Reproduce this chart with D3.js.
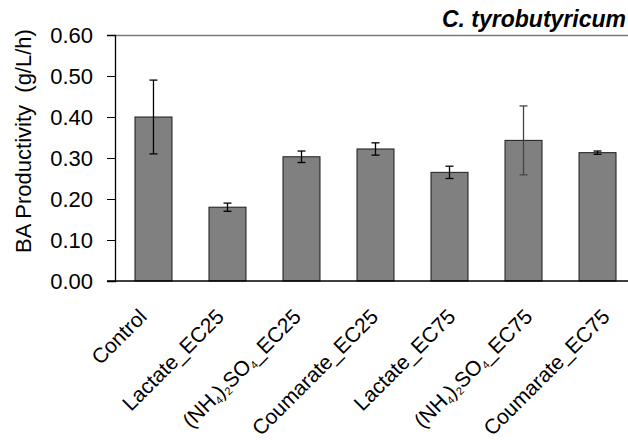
<!DOCTYPE html>
<html lang="en">
<head>
    <meta charset="UTF-8">
    <title>BA Productivity</title>
    <script src="https://d3js.org/d3.v7.min.js"></script>
    <style>
        body {
            background-color: #ffffff;
            margin: 0;
            padding: 0;
            font-family: "Liberation Sans", Arial, sans-serif;
        }
    </style>
</head>
<body>
    <svg id="chart"></svg>

    <script>
        const categories = ["Control", "Lactate_EC25", "(NH4)2SO4_EC25", "Coumarate_EC25",
            "Lactate_EC75", "(NH4)2SO4_EC75", "Coumarate_EC75"];
        const productivity = [0.40, 0.18, 0.303, 0.322, 0.265, 0.343, 0.313];
        const errors = [0.09, 0.01, 0.014, 0.015, 0.015, 0.084, 0.004];
        const yTicks = [0, 0.1, 0.2, 0.3, 0.4, 0.5, 0.6];

        const width = 628;
        const height = 440;
        const margin = { top: 35, right: -8, bottom: 159, left: 115 };

        const chartWidth = width - margin.left - margin.right;
        const chartHeight = height - margin.top - margin.bottom;

        const svg = d3.select("#chart")
            .attr("width", width)
            .attr("height", height);

        const chart = svg.append("g")
            .attr("transform", `translate(${margin.left},${margin.top})`);

        const xScale = d3.scaleBand()
            .domain(categories)
            .range([0, chartWidth])
            .paddingInner(0.5)
            .paddingOuter(0.27);

        // the rotated labels sit on a slightly wider spacing than the bars
        const labelScale = d3.scalePoint()
            .domain(categories)
            .range([33, 496]);

        const yScale = d3.scaleLinear()
            .domain([0, 0.6])
            .range([chartHeight, 0]);

        // top border of plot area
        chart.append("line")
            .attr("x1", 0).attr("x2", chartWidth)
            .attr("y1", 0.5).attr("y2", 0.5)
            .attr("stroke", "#777")
            .attr("stroke-width", 1.5);

        const data = categories.map((c, i) => ({ cat: c, value: productivity[i], err: errors[i] }));

        chart.selectAll(".bar")
            .data(data)
            .enter()
            .append("rect")
            .attr("class", "bar")
            .attr("x", d => xScale(d.cat))
            .attr("y", d => yScale(d.value))
            .attr("width", xScale.bandwidth())
            .attr("height", d => chartHeight - yScale(d.value))
            .attr("fill", "#808080")
            .attr("stroke", "#1a1a1a")
            .attr("stroke-width", 1);

        // error bars
        const errG = chart.selectAll(".err")
            .data(data)
            .enter()
            .append("g")
            .attr("class", "err")
            .attr("stroke", (d, i) => i === 5 ? "#444" : "#000")
            .attr("stroke-width", 1.3);

        const cx = d => xScale(d.cat) + xScale.bandwidth() / 2;
        errG.append("line")
            .attr("x1", cx).attr("x2", cx)
            .attr("y1", d => yScale(d.value + d.err))
            .attr("y2", d => yScale(d.value - d.err));
        errG.append("line")
            .attr("x1", d => cx(d) - 4).attr("x2", d => cx(d) + 4)
            .attr("y1", d => yScale(d.value + d.err))
            .attr("y2", d => yScale(d.value + d.err));
        errG.append("line")
            .attr("x1", d => cx(d) - 4).attr("x2", d => cx(d) + 4)
            .attr("y1", d => yScale(d.value - d.err))
            .attr("y2", d => yScale(d.value - d.err));

        // y axis
        const yAxis = chart.append("g")
            .call(d3.axisLeft(yScale).tickValues(yTicks).tickFormat(d3.format(".2f")).tickSize(8).tickPadding(14));
        yAxis.select(".domain").attr("stroke", "#000").attr("stroke-width", 1.3);
        yAxis.selectAll(".tick line").attr("stroke", "#000");
        yAxis.selectAll("text")
            .attr("font-family", "Liberation Sans, Arial, sans-serif")
            .attr("font-size", "22px")
            .attr("fill", "#000");

        // x axis line
        chart.append("line")
            .attr("x1", -8).attr("x2", chartWidth)
            .attr("y1", chartHeight).attr("y2", chartHeight)
            .attr("stroke", "#000")
            .attr("stroke-width", 1.5);

        // x labels, rotated
        const labels = chart.selectAll(".xlabel")
            .data(categories)
            .enter()
            .append("text")
            .attr("class", "xlabel")
            .attr("font-size", "21px")
            .attr("fill", "#000")
            .attr("text-anchor", "end")
            .attr("transform", d => `translate(${labelScale(d)},${chartHeight + 37}) rotate(-45)`);

        labels.each(function (d) {
            const t = d3.select(this);
            if (d.startsWith("(NH4)2SO4")) {
                t.append("tspan").text("(NH");
                t.append("tspan").attr("font-size", "11px").attr("dy", 3).text("4");
                t.append("tspan").attr("dy", -3).text(")");
                t.append("tspan").attr("font-size", "11px").attr("dy", 3).text("2");
                t.append("tspan").attr("dy", -3).text("SO");
                t.append("tspan").attr("font-size", "11px").attr("dy", 3).text("4");
                t.append("tspan").attr("dy", -3).text(d.slice(9));
            } else {
                t.text(d);
            }
        });

        // y axis title
        svg.append("text")
            .attr("transform", "rotate(-90)")
            .attr("x", -141)
            .attr("y", 31)
            .attr("text-anchor", "middle")
            .attr("font-size", "22px")
            .attr("fill", "#000")
            .attr("xml:space", "preserve")
            .text("BA Productivity  (g/L/h)");

        // species title
        svg.append("text")
            .attr("x", 626)
            .attr("y", 27)
            .attr("text-anchor", "end")
            .attr("font-size", "23px")
            .attr("font-weight", "bold")
            .attr("font-style", "italic")
            .attr("fill", "#000")
            .text("C. tyrobutyricum");
    </script>
</body>
</html>
